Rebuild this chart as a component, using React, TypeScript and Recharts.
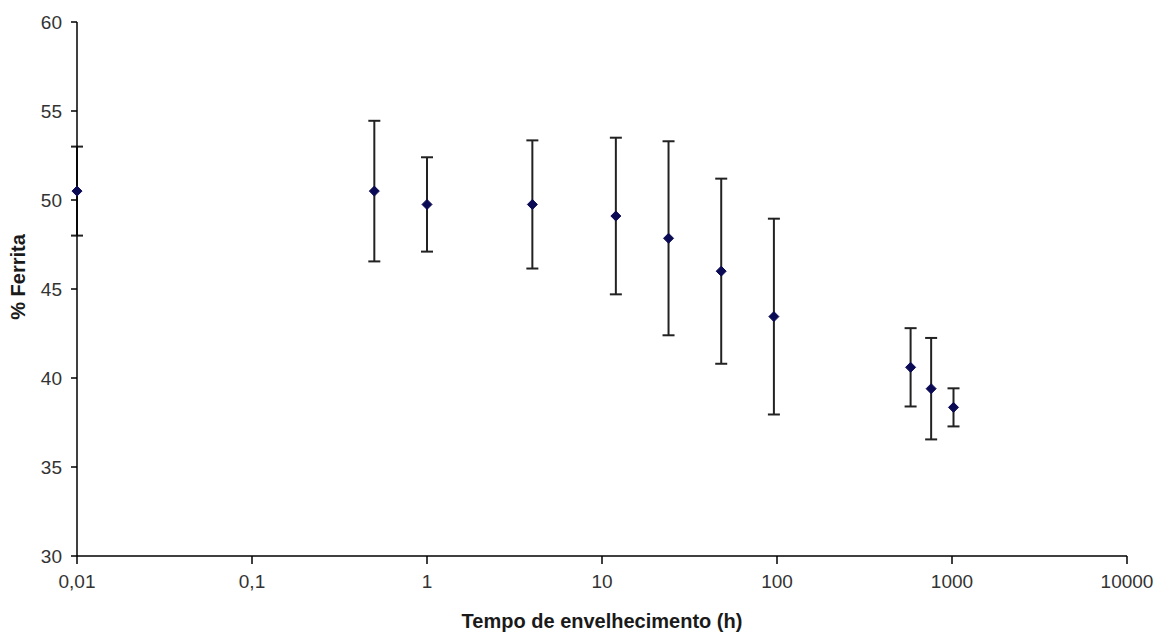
import { ScatterChart, Scatter, XAxis, YAxis, ErrorBar } from 'recharts';

// tempo de envelhecimento (h), % ferrita e desvio
const tempos = [0.01, 0.5, 1, 4, 12, 24, 48, 96, 580, 760, 1020];
const ferrita = [50.5, 50.5, 49.75, 49.75, 49.1, 47.85, 46.0, 43.45, 40.6, 39.4, 38.35];
const desvio = [2.5, 3.95, 2.65, 3.6, 4.4, 5.45, 5.2, 5.5, 2.2, 2.85, 1.07];

const xTicks = [0.01, 0.1, 1, 10, 100, 1000, 10000];
const yTicks = [30, 35, 40, 45, 50, 55, 60];

const data = tempos.map((t, i) => ({ t, f: ferrita[i], err: desvio[i] }));

const FONT = '"Liberation Sans", Arial, sans-serif';

function Diamond(props: any) {
  const { cx, cy } = props;
  const r = 5;
  return (
    <polygon
      points={`${cx},${cy - r} ${cx + r},${cy} ${cx},${cy + r} ${cx - r},${cy}`}
      fill="#0b0b55"
      stroke="#0b0b55"
      strokeWidth={1}
    />
  );
}

const fmt = (v: number) => String(v).replace('.', ',');

export default function App() {
  return (
    <div style={{ position: 'absolute', left: 0, top: 0, width: 1166, height: 640, background: '#fff' }}>
      <ScatterChart width={1166} height={640} margin={{ top: 22, right: 39, bottom: 0, left: 0 }}>
        <XAxis
          type="number"
          dataKey="t"
          scale="log"
          domain={[0.01, 10000]}
          ticks={xTicks}
          tickFormatter={fmt}
          height={84}
          stroke="#000"
          strokeWidth={1.5}
          tickSize={8}
          tickMargin={11}
          tick={{ fill: '#333', fontSize: 19, fontFamily: FONT }}
          label={{
            content: (p: any) => {
              const vb = p.viewBox;
              return (
                <text
                  x={vb.x + vb.width / 2}
                  y={628}
                  textAnchor="middle"
                  fontFamily={FONT}
                  fontSize={20}
                  fontWeight="bold"
                  fill="#1a1a1a"
                >
                  Tempo de envelhecimento (h)
                </text>
              );
            },
          }}
        />
        <YAxis
          type="number"
          dataKey="f"
          domain={[30, 60]}
          ticks={yTicks}
          width={77}
          stroke="#000"
          strokeWidth={1.5}
          tickSize={6}
          tickMargin={9}
          tick={{ fill: '#333', fontSize: 19, fontFamily: FONT }}
          label={{
            content: () => (
              <text
                x={25}
                y={277}
                transform="rotate(-90 25 277)"
                textAnchor="middle"
                fontFamily={FONT}
                fontSize={20}
                fontWeight="bold"
                fill="#1a1a1a"
              >
                % Ferrita
              </text>
            ),
          }}
        />
        <Scatter data={data} shape={<Diamond />} isAnimationActive={false}>
          <ErrorBar dataKey="err" direction="y" width={6} stroke="#222" strokeWidth={2} isAnimationActive={false} />
        </Scatter>
      </ScatterChart>
    </div>
  );
}
